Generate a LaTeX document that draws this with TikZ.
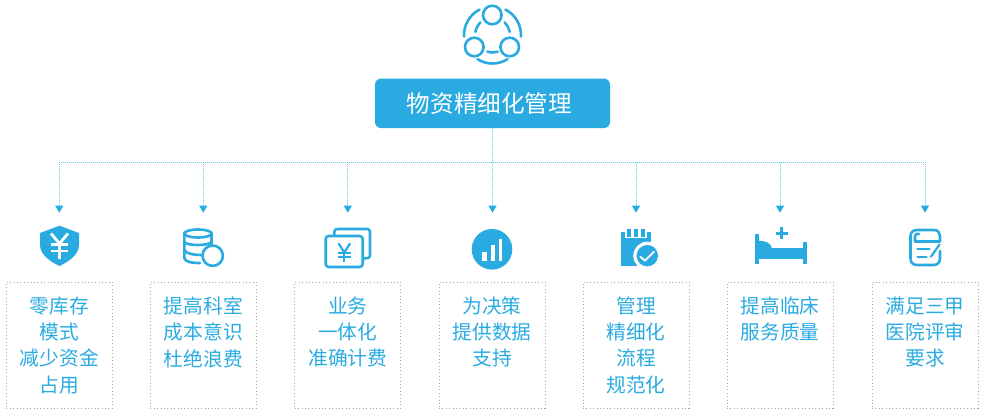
\documentclass[tikz,border=0pt]{standalone}
\usepackage{fontspec}
\usepackage{xcolor}
\usetikzlibrary{positioning,arrows.meta}
\setmainfont{Noto Sans CJK SC}
\definecolor{skyblue}{HTML}{29ABE2}
\definecolor{buslight}{HTML}{6CC8EC}
\begin{document}
\begin{tikzpicture}[
  x=1pt,y=1pt,
  headbox/.style={rectangle,rounded corners=6pt,fill=skyblue,text=white,minimum width=235pt,minimum height=49.5pt,inner sep=0pt,font=\fontsize{23.6}{28}\selectfont},
  infobox/.style={rectangle,draw=black!35,line width=0.9pt,dash pattern=on 0.9pt off 2.5pt,minimum width=106pt,minimum height=126pt,inner sep=0pt},
  infotext/.style={align=center,text=skyblue,inner sep=0pt,font=\fontsize{19.7}{26.3}\selectfont},
  busline/.style={buslight,line width=0.9pt,dash pattern=on 1pt off 1pt},
  busarrow/.style={busline,-{Triangle[width=8pt,length=7pt,color=skyblue]}},
  iconline/.style={skyblue,line width=2.6pt,line cap=round,line join=round},
  iconfill/.style={fill=skyblue,draw=none},
  iconcut/.style={white,line width=2.8pt}
]
  \useasboundingbox (0,0) rectangle (983,-417);
  \node[headbox] (main) at (492.5,-103.3) {\hspace*{-6pt}物资精细化管理};
  \node[infobox] (box1) at (59.3,-345) {};
  \node[infobox] (box2) at (203.3,-345) {};
  \node[infobox] (box3) at (347.8,-345) {};
  \node[infobox] (box4) at (492,-345) {};
  \node[infobox] (box5) at (636,-345) {};
  \node[infobox] (box6) at (780,-345) {};
  \node[infobox] (box7) at (925,-345) {};
  \node[infotext,below=15pt of box1.north] (text1) {零库存\\模式\\减少资金\\占用};
  \node[infotext,below=15pt of box2.north] (text2) {提高科室\\成本意识\\杜绝浪费};
  \node[infotext,below=15pt of box3.north] (text3) {业务\\一体化\\准确计费};
  \node[infotext,below=15pt of box4.north] (text4) {为决策\\提供数据\\支持};
  \node[infotext,below=15pt of box5.north] (text5) {管理\\精细化\\流程\\规范化};
  \node[infotext,below=15pt of box6.north] (text6) {提高临床\\服务质量};
  \node[infotext,below=15pt of box7.north] (text7) {满足三甲\\医院评审\\要求};
  \coordinate (bus1) at (59.3,-162);
  \coordinate (bus2) at (203.3,-162);
  \coordinate (bus3) at (347.8,-162);
  \coordinate (bus4) at (492.5,-162);
  \coordinate (bus5) at (636,-162);
  \coordinate (bus6) at (780,-162);
  \coordinate (bus7) at (925,-162);
  \coordinate (tip1) at (59.3,-212.7);
  \coordinate (tip2) at (203.3,-212.7);
  \coordinate (tip3) at (347.8,-212.7);
  \coordinate (tip4) at (492.5,-212.7);
  \coordinate (tip5) at (636,-212.7);
  \coordinate (tip6) at (780,-212.7);
  \coordinate (tip7) at (925,-212.7);
  \draw[busline] (main.south) -- (bus4);
  \draw[busline] (bus1) -- (bus7);
  \draw[busarrow] (bus1) -- (tip1);
  \draw[busarrow] (bus2) -- (tip2);
  \draw[busarrow] (bus3) -- (tip3);
  \draw[busarrow] (bus4) -- (tip4);
  \draw[busarrow] (bus5) -- (tip5);
  \draw[busarrow] (bus6) -- (tip6);
  \draw[busarrow] (bus7) -- (tip7);

  \draw[iconline] (492.3,-15) circle[radius=9.3];
  \draw[iconline] (474.3,-47) circle[radius=9.3];
  \draw[iconline] (509.7,-47) circle[radius=9.3];
  \draw[iconline] (492.5,-35) ++(63:28.5) arc[start angle=63,end angle=-3,radius=28.5];
  \draw[iconline] (492.5,-35) ++(117:28.5) arc[start angle=117,end angle=183,radius=28.5];
  \draw[iconline] (492.5,-35) ++(238:28.5) arc[start angle=238,end angle=302,radius=28.5];
  \draw[iconline] (492.5,-35) ++(253:17.5) arc[start angle=253,end angle=287,radius=17.5];
  \draw[iconline] (492.5,-35) ++(170:17.5) arc[start angle=170,end angle=134,radius=17.5];
  \draw[iconline] (492.5,-35) ++(10:17.5) arc[start angle=10,end angle=46,radius=17.5];

  \fill[iconfill] (59.5,-225.7) -- (79,-233) -- (79,-245) .. controls (79,-255) and (68,-262) .. (59.5,-266) .. controls (51,-262) and (40,-255) .. (40,-245) -- (40,-233) -- cycle;
  \draw[iconcut] (51,-233.5) -- (59.5,-243.5) -- (68,-233.5);
  \draw[iconcut] (59.5,-243.5) -- (59.5,-258.5);
  \draw[iconcut] (51,-244.5) -- (68,-244.5);
  \draw[iconcut] (51,-251) -- (68,-251);

  \draw[iconline] (198,-233.5) ellipse[x radius=13.7,y radius=4];
  \draw[iconline] (184.3,-233.5) -- (184.3,-258) .. controls (185,-262) and (192,-263) .. (200,-263);
  \draw[iconline] (211.7,-233.5) -- (211.7,-245);
  \draw[iconline] (184.3,-242) .. controls (187,-246) and (208,-246) .. (211.7,-242);
  \draw[iconline] (184.3,-250) .. controls (186,-254) and (195,-255) .. (201,-255);
  \draw[skyblue,fill=white,line width=2.6pt] (212.7,-255.7) circle[radius=10.2];

  \draw[iconline] (334.3,-235) -- (334.3,-232) .. controls (334.3,-230) and (335.5,-229) .. (337.5,-229) -- (367,-229) .. controls (369,-229) and (370,-230) .. (370,-232) -- (370,-255.5) .. controls (370,-257.5) and (369,-258.3) .. (364.5,-258.3);
  \draw[iconline,rounded corners=3pt] (325.7,-236) rectangle (362.7,-267);
  \draw[skyblue,line width=2.2pt] (338.5,-243.3) -- (344.3,-252.5) -- (350.2,-243.3);
  \draw[skyblue,line width=2.2pt] (344.3,-252.5) -- (344.3,-261.7);
  \draw[skyblue,line width=1.8pt] (338,-252.7) -- (351,-252.7);
  \draw[skyblue,line width=1.8pt] (338,-256.8) -- (351,-256.8);

  \fill[iconfill] (492,-249.3) circle[radius=20.3];
  \fill[white] (482,-251.7) rectangle (486.7,-261);
  \fill[white] (490.5,-245) rectangle (494.7,-261);
  \fill[white] (498.7,-239.3) rectangle (502.2,-261);

  \fill[iconfill] (620.7,-232.3) rectangle (650.7,-266);
  \fill[white] (625.2,-228) rectangle (646.5,-237.8);
  \fill[iconfill] (626.7,-229) rectangle (630.7,-237);
  \fill[iconfill] (634,-229) rectangle (638,-237);
  \fill[iconfill] (641.3,-229) rectangle (645,-237);
  \fill[white] (647.3,-255.7) circle[radius=14];
  \fill[iconfill] (647.3,-255.7) circle[radius=10.7];
  \draw[white,line width=1.8pt,line cap=round,line join=round] (640.3,-256.7) -- (645,-260.7) -- (654,-251.7);

  \fill[iconfill] (755,-234) rectangle (759,-264.3);
  \fill[iconfill] (803.3,-242.3) rectangle (806.7,-264.3);
  \fill[iconfill] (755,-248.3) rectangle (806.7,-259.3);
  \fill[iconfill] (758,-240.7) .. controls (766,-240.7) and (771,-243) .. (772,-248.5) -- (758,-248.5) -- cycle;
  \draw[skyblue,line width=3.4pt] (775.7,-233.3) -- (787.7,-233.3);
  \draw[skyblue,line width=3.4pt] (781.7,-227.3) -- (781.7,-239.3);

  \draw[iconline] (910.5,-244) -- (910.5,-258.5) .. controls (910.5,-262.5) and (913,-265) .. (917,-265) -- (933.5,-265) .. controls (937.5,-265) and (940,-262.5) .. (940,-258.5) -- (940,-251);
  \draw[iconline] (910.5,-244) -- (910.5,-236) .. controls (910.5,-232.5) and (913,-230) .. (917,-230) -- (934,-230) .. controls (938,-230) and (940,-233) .. (940,-236) -- (940,-241.5) -- (915,-241.5) -- (915,-236) .. controls (915,-234) and (917,-233) .. (919,-234);
  \draw[iconline,line width=2.2pt] (917.5,-249) -- (929.5,-249);
  \draw[iconline,line width=2.2pt] (917.5,-256.7) -- (926.5,-256.7);
  \draw[iconline,line width=2.2pt] (931,-256.7) -- (939.5,-244.5);
\end{tikzpicture}
\end{document}
